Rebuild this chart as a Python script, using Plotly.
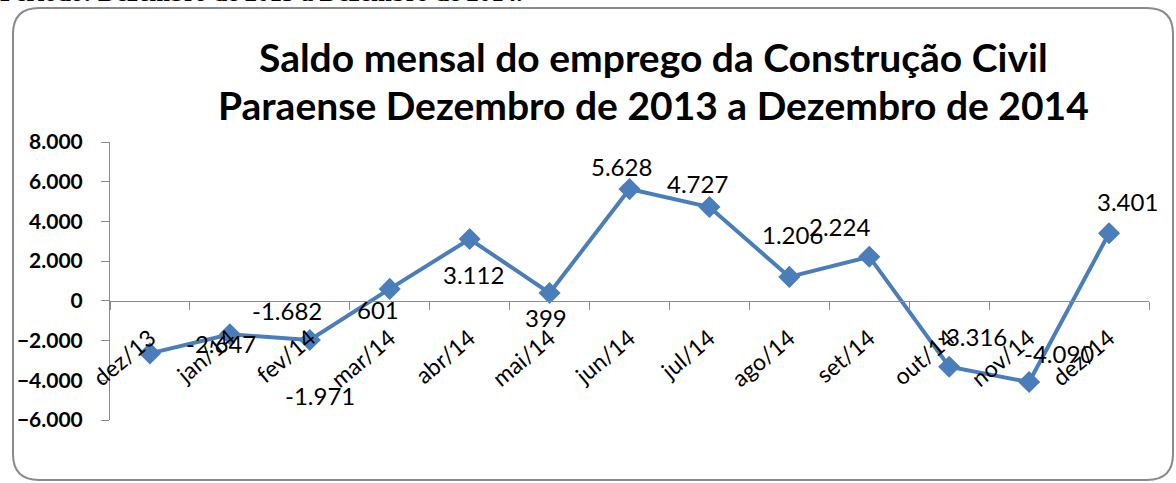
import plotly.graph_objects as go

# data
MESES = ["dez/13", "jan/14", "fev/14", "mar/14", "abr/14", "mai/14", "jun/14",
         "jul/14", "ago/14", "set/14", "out/14", "nov/14", "dez/14"]
SALDO = [-2647, -1682, -1971, 601, 3112, 399, 5628, 4727, 1206, 2224, -3316, -4090, 3401]
Y_TICKS = [-6000, -4000, -2000, 0, 2000, 4000, 6000, 8000]

TITLE_1 = "Saldo mensal do emprego da Construção Civil"
TITLE_2 = "Paraense Dezembro de 2013 a Dezembro de 2014"
TOP_NOTE = "Período: Dezembro de 2013 a Dezembro de 2014."

# label offsets in pixels (style only), as placed in the original chart
LABEL_DX = [71, 57, 10, -12, 4, -4, -8, -12, 3, -30, 23, 30, 18]
LABEL_DY = [-10, -24, 55, 21, 35, 25, -23, -23, -42, -30, -30, -29, -32]

W, H = 1176, 483
ML, MR, MT, MB = 110, 27, 142, 63
PW, PH = W - ML - MR, H - MT - MB

BLUE = "#4A7EBB"
AXIS = "#8C8C8C"
TEXT = "#000000"
FONT = "Lato, Calibri, Arial, sans-serif"


def fx(px):
    return (px - ML) / PW


def fy(py):
    return (H - MB - py) / PH


def pt(v):
    return f"{v:,}".replace(",", ".")


fig = go.Figure()
fig.add_trace(go.Scatter(
    x=MESES, y=SALDO, mode="lines+markers",
    line=dict(color=BLUE, width=4),
    marker=dict(symbol="diamond", size=17, color=BLUE),
    hoverinfo="skip", showlegend=False,
))

for m, v, dx, dy in zip(MESES, SALDO, LABEL_DX, LABEL_DY):
    fig.add_annotation(
        x=m, y=v, text=pt(v), showarrow=False,
        xshift=dx, yshift=-dy,
        font=dict(size=24, color=TEXT, family=FONT),
    )

for line, cy in ((TITLE_1, 57), (TITLE_2, 105)):
    fig.add_annotation(
        xref="paper", yref="paper", x=fx(653), y=fy(cy),
        xanchor="center", yanchor="middle", text=f"<b>{line}</b>", showarrow=False,
        font=dict(size=39, color=TEXT, family=FONT),
    )

fig.add_annotation(
    xref="paper", yref="paper", x=fx(-2), y=fy(8),
    xanchor="left", yanchor="bottom", text=f"<b>{TOP_NOTE}</b>", showarrow=False,
    font=dict(size=25, color=TEXT, family="Liberation Serif, Times New Roman, serif"),
)

# rounded frame around the chart area
x0, x1, y0, y1, r = fx(13), fx(1173), fy(8), fy(480), 26
rx, ry = r / PW, r / PH
frame = (f"M {x0 + rx},{y0} L {x1 - rx},{y0} Q {x1},{y0} {x1},{y0 - ry} "
         f"L {x1},{y1 + ry} Q {x1},{y1} {x1 - rx},{y1} L {x0 + rx},{y1} "
         f"Q {x0},{y1} {x0},{y1 + ry} L {x0},{y0 - ry} Q {x0},{y0} {x0 + rx},{y0} Z")
fig.add_shape(type="path", path=frame, xref="paper", yref="paper",
              line=dict(color="#8A8A8A", width=2), layer="below")

fig.update_layout(
    width=W, height=H,
    margin=dict(l=ML, r=MR, t=MT, b=MB),
    paper_bgcolor="white", plot_bgcolor="white",
    separators=",.",
    font=dict(family=FONT, color=TEXT),
    xaxis=dict(
        type="category", anchor="free", position=fy(H - MB - PH * 6 / 14),
        showline=True, linecolor=AXIS, linewidth=1,
        ticks="outside", tickson="boundaries", ticklen=8, tickcolor=AXIS,
        tickangle=-40, tickfont=dict(size=23, color=TEXT, family=FONT),
        ticklabelstandoff=14,
        showgrid=False, zeroline=False, range=[-0.5, len(MESES) - 0.5],
    ),
    yaxis=dict(
        range=[-6000, 8000], tickvals=Y_TICKS, tickformat=",d",
        showline=True, linecolor=AXIS, linewidth=1,
        ticks="outside", ticklen=8, tickcolor=AXIS,
        tickfont=dict(size=21, color=TEXT, family=FONT, weight="bold"),
        ticklabelstandoff=14,
        showgrid=False, zeroline=False,
    ),
)

fig.write_html("out.html", config={"displayModeBar": False},
               post_script="document.body.style.margin='0';")
